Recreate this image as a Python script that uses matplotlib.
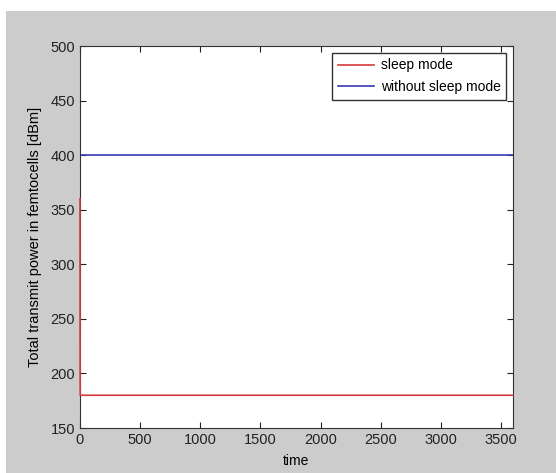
import matplotlib
matplotlib.use("Agg")
import matplotlib.pyplot as plt
from matplotlib.patches import Rectangle

# Data
time_sleep = [0, 1, 2, 3600]
power_sleep = [360, 200, 180, 180]
time_nosleep = [0, 3600]
power_nosleep = [400, 400]

xticks = [0, 500, 1000, 1500, 2000, 2500, 3000, 3500]
yticks = [150, 200, 250, 300, 350, 400, 450, 500]

plt.rcParams['font.family'] = ['Liberation Sans', 'DejaVu Sans']

fig = plt.figure(figsize=(5.56, 4.73), dpi=100)
fig.patch.set_facecolor("white")
# Gray MATLAB-style background panel
fig.patches.append(Rectangle((6 / 556, 0), 1, (473 - 11) / 473,
                             transform=fig.transFigure, facecolor="#cccccc",
                             edgecolor="none", zorder=-10))

ax = fig.add_axes([80 / 556, 45 / 473, (513 - 80) / 556, (428 - 46) / 473])
ax.plot(time_sleep, power_sleep, color="#d43a3a", lw=1.2, label="sleep mode",
        zorder=3, clip_on=False)
ax.plot(time_nosleep, power_nosleep, color="#3a3ab8", lw=1.2, label="without sleep mode")

ax.set_xlim(0, 3600)
ax.set_ylim(150, 500)
ax.set_xticks(xticks)
ax.set_yticks(yticks)
ax.tick_params(direction="in", length=4, labelsize=10.5, colors="#222222")
ax.tick_params(top=True, right=True)
for s in ax.spines.values():
    s.set_color("#333333")

ax.set_xlabel("time", fontsize=10, labelpad=5)
ax.set_ylabel("Total transmit power in femtocells [dBm]", fontsize=10.5, labelpad=6)

leg = ax.legend(loc="upper right", fontsize=10, fancybox=False, framealpha=1,
                edgecolor="#333333", borderaxespad=0.5, handlelength=2.6,
                handletextpad=0.5, borderpad=0.4, labelspacing=0.55)
leg.get_frame().set_linewidth(1)

fig.savefig("out.png", dpi=100)
